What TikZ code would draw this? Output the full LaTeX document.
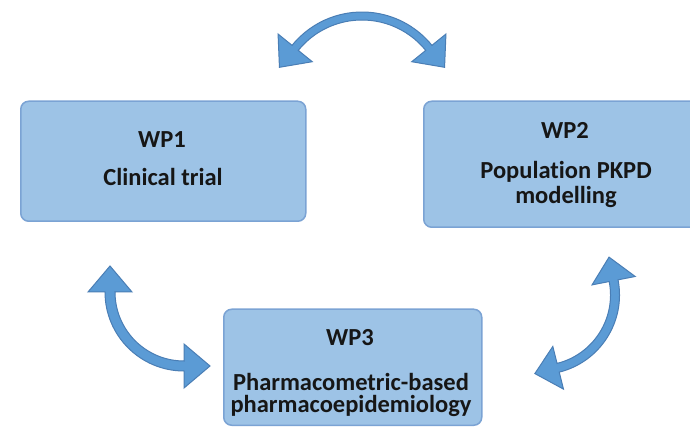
\documentclass[tikz,border=0pt]{standalone}
\usepackage{fontspec}
\setmainfont{Carlito}[Ligatures=NoCommon]
\usetikzlibrary{calc}

\definecolor{boxfill}{HTML}{9DC3E6}
\definecolor{boxline}{HTML}{7BA3D4}
\definecolor{arrfill}{HTML}{5B9BD5}
\definecolor{arrline}{HTML}{4A7EB5}
\definecolor{txt}{HTML}{161616}

% Curved block arrow with a head at both ends.
% #1,#2 centre; #3 radius; #4 start angle; #5 end angle;
% #6 half shaft width; #7 half head width; #8 head length
\newcommand{\dblarc}[8]{%
  \pgfmathsetmacro{\dSgn}{sign(#5-#4)}%
  \pgfmathsetmacro{\dDel}{atan(#8/#3)}%
  \pgfmathsetmacro{\dTip}{sqrt(#3*#3+#8*#8)}%
  \pgfmathsetmacro{\dRo}{#3+#6}%
  \pgfmathsetmacro{\dRi}{#3-#6}%
  \pgfmathsetmacro{\dHo}{#3+#7}%
  \pgfmathsetmacro{\dHi}{#3-#7}%
  \begin{scope}[shift={(#1,#2)}]
    \draw[arrowshape] (#4:\dRo pt) arc[start angle=#4, end angle=#5, radius=\dRo pt]
      -- (#5:\dHo pt) -- ({#5+\dSgn*\dDel}:\dTip pt) -- (#5:\dHi pt) -- (#5:\dRi pt)
      arc[start angle=#5, end angle=#4, radius=\dRi pt]
      -- (#4:\dHi pt) -- ({#4-\dSgn*\dDel}:\dTip pt) -- (#4:\dHo pt) -- cycle;
  \end{scope}%
}

\begin{document}
\begin{tikzpicture}[x=1pt,y=1pt,
    wpbox/.style={draw=boxline, fill=boxfill, line width=1.5pt, rounded corners=8pt},
    wptext/.style={text=txt, font=\bfseries\fontsize{24.5}{28}\selectfont, inner sep=0pt, anchor=center},
    arrowshape/.style={draw=arrline, fill=arrfill, line width=1pt, line join=miter}]
  \useasboundingbox (0,0) rectangle (690,428);
  \clip (0,0) rectangle (690,428);
  \fill[white] (0,0) rectangle (690,428);

  % work package boxes
  \node[wpbox, minimum width=285pt, minimum height=120pt, anchor=south west] (wp1) at (20,206) {};
  \node[wpbox, minimum width=280pt, minimum height=126pt, anchor=south west] (wp2) at (423,200) {};
  \node[wpbox, minimum width=258pt, minimum height=116pt, anchor=south west] (wp3) at (223,2) {};

  % labels
  \node[wptext] (t1a) at (162,288) {WP1};
  \node[wptext] (t1b) at (163,251) {Clinical trial};
  \node[wptext] (t2a) at (565,298) {WP2};
  \node[wptext] (t2b) at (566,256) {Population PKPD};
  \node[wptext] (t2c) at (566,231) {modelling};
  \node[wptext] (t3a) at (350,90) {WP3};
  \node[wptext] (t3b) at (351,46) {Pharmacometric-based};
  \node[wptext] (t3c) at (351,22) {pharmacoepidemiology};

  % two-way curved arrows between the work packages
  \dblarc{362}{326}{86}{141}{39}{4}{22}{25}
  \dblarc{184}{136}{74}{180}{270}{5}{22}{26}
  \dblarc{540}{133}{75}{11}{-76}{4.5}{22}{24}
\end{tikzpicture}
\end{document}
